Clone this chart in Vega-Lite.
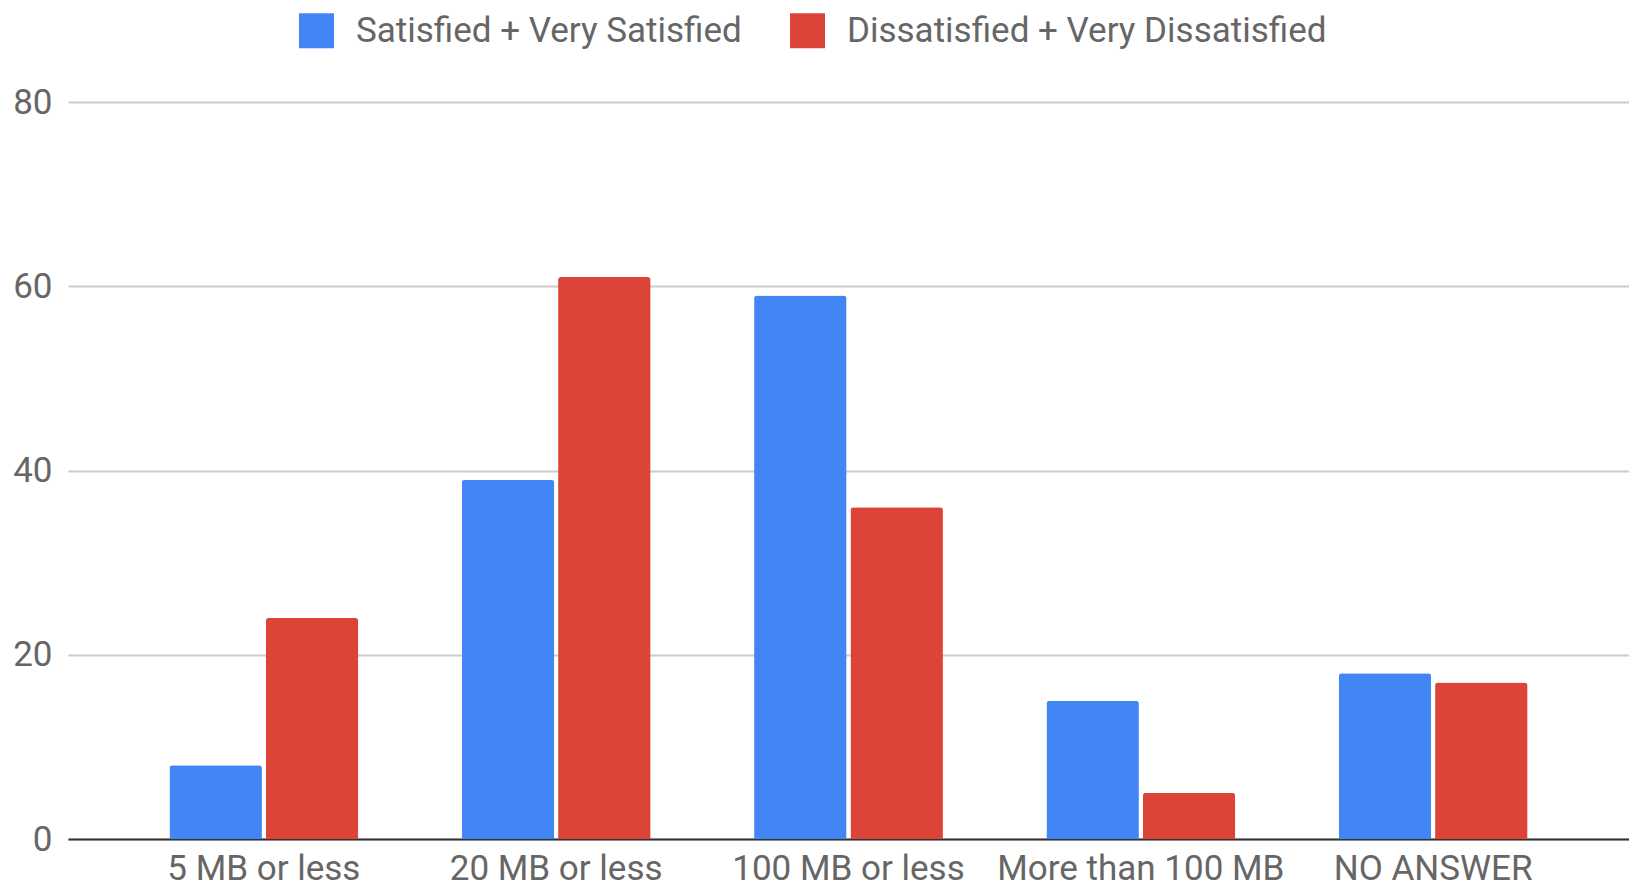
{
  "$schema": "https://vega.github.io/schema/vega-lite/v6.json",
  "width": 1561,
  "height": 737,
  "padding": {"left": 68, "top": 102, "right": 0, "bottom": 50},
  "autosize": {"type": "none"},
  "background": "white",
  "config": {
    "font": "Roboto",
    "view": {"stroke": null}
  },
  "data": {
    "values": [
      {"size": "5 MB or less", "group": "Satisfied + Very Satisfied", "count": 8},
      {"size": "5 MB or less", "group": "Dissatisfied + Very Dissatisfied", "count": 24},
      {"size": "20 MB or less", "group": "Satisfied + Very Satisfied", "count": 39},
      {"size": "20 MB or less", "group": "Dissatisfied + Very Dissatisfied", "count": 61},
      {"size": "100 MB or less", "group": "Satisfied + Very Satisfied", "count": 59},
      {"size": "100 MB or less", "group": "Dissatisfied + Very Dissatisfied", "count": 36},
      {"size": "More than 100 MB", "group": "Satisfied + Very Satisfied", "count": 15},
      {"size": "More than 100 MB", "group": "Dissatisfied + Very Dissatisfied", "count": 5},
      {"size": "NO ANSWER", "group": "Satisfied + Very Satisfied", "count": 18},
      {"size": "NO ANSWER", "group": "Dissatisfied + Very Dissatisfied", "count": 17}
    ]
  },
  "mark": {"type": "bar", "cornerRadiusTopLeft": 3, "cornerRadiusTopRight": 3},
  "encoding": {
    "x": {
      "field": "size",
      "type": "nominal",
      "sort": ["5 MB or less", "20 MB or less", "100 MB or less", "More than 100 MB", "NO ANSWER"],
      "scale": {"paddingInner": 0.354, "paddingOuter": 0.347},
      "axis": {
        "title": null,
        "labelAngle": 0,
        "labelFontSize": 35,
        "labelColor": "#666666",
        "labelPadding": 12,
        "labelLimit": 0,
        "ticks": false,
        "tickSize": 0,
        "domainColor": "#333333",
        "domainWidth": 2
      }
    },
    "xOffset": {
      "field": "group",
      "type": "nominal",
      "sort": ["Satisfied + Very Satisfied", "Dissatisfied + Very Dissatisfied"],
      "scale": {"paddingInner": 0.04}
    },
    "y": {
      "field": "count",
      "type": "quantitative",
      "scale": {"domain": [0, 80]},
      "axis": {
        "title": null,
        "values": [0, 20, 40, 60, 80],
        "labelFontSize": 35,
        "labelColor": "#666666",
        "labelPadding": 16,
        "ticks": false,
        "tickSize": 0,
        "domain": false,
        "gridColor": "#cccccc",
        "gridWidth": 2
      }
    },
    "color": {
      "field": "group",
      "type": "nominal",
      "sort": ["Satisfied + Very Satisfied", "Dissatisfied + Very Dissatisfied"],
      "scale": {"range": ["#4285f4", "#db4437"]},
      "legend": {
        "title": null,
        "orient": "none",
        "direction": "horizontal",
        "legendX": 231,
        "legendY": -89,
        "symbolType": "square",
        "symbolSize": 1225,
        "symbolStrokeWidth": 0,
        "labelFontSize": 35,
        "labelColor": "#666666",
        "labelOffset": 22,
        "labelLimit": 0,
        "columnPadding": 48
      }
    }
  }
}
